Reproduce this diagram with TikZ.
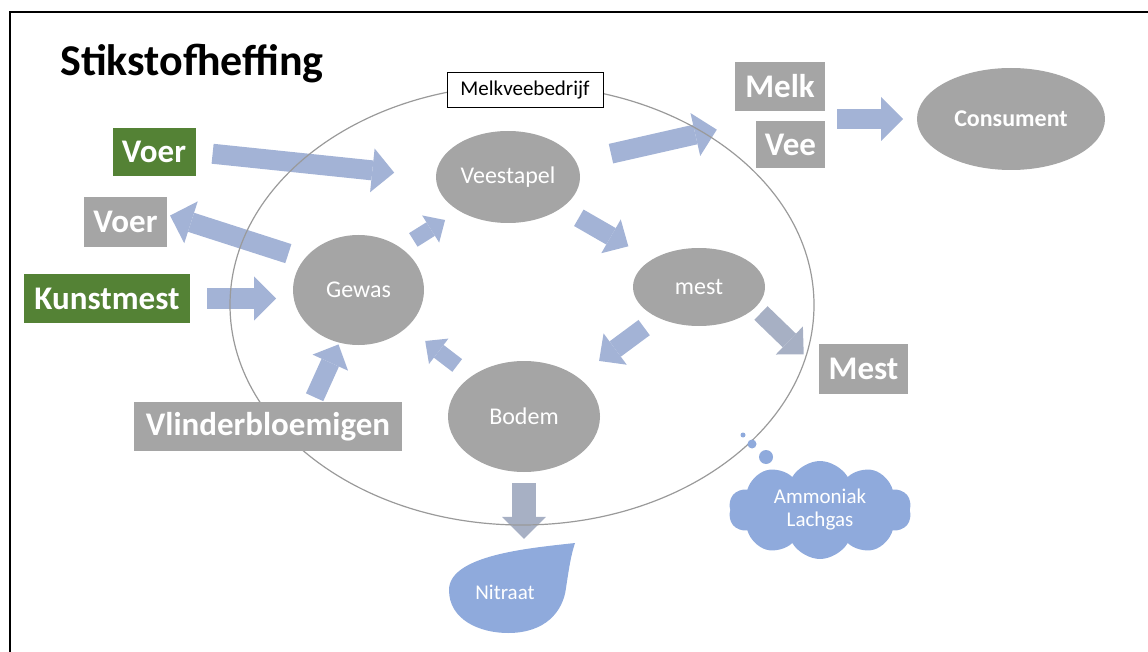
\documentclass[tikz,border=0pt]{standalone}
\usepackage{fontspec}
\setmainfont{Carlito}
\usepackage{tikz}
\usetikzlibrary{positioning, arrows.meta, calc, shapes.geometric, shapes.symbols}
\definecolor{stik-grey}{HTML}{A5A5A5}
\definecolor{stik-green}{HTML}{548235}
\definecolor{stik-flow}{HTML}{A3B3D6}
\definecolor{stik-flowgrey}{HTML}{A7B0C4}
\definecolor{stik-blue}{HTML}{8FAADC}
\definecolor{stik-ring}{HTML}{9A9A9A}
\pgfdeclarelayer{pijlen}
\pgfdeclarelayer{ring}
\pgfsetlayers{pijlen,ring,main}

\begin{document}
\begin{tikzpicture}[
    x=1pt, y=-1pt,
    label box/.style={fill=stik-grey, text=white, inner sep=0pt, font=\fontsize{33}{36}\selectfont\bfseries},
    input box/.style={label box, fill=stik-green},
    pool/.style={ellipse, fill=stik-grey, text=white, inner sep=0pt, outer sep=0pt, font=\fontsize{24}{28}\selectfont},
    flow/.style={stik-flow, line width=20pt, -{Triangle[length=22pt, width=44pt, line width=0pt]}},
    flow mid/.style={stik-flow, line width=19pt, -{Triangle[length=20pt, width=39pt, line width=0pt]}},
    flow small/.style={stik-flow, line width=16pt, -{Triangle[length=17pt, width=32pt, line width=0pt]}},
]
    \useasboundingbox (0,0) rectangle (1148,652);

    % Page frame
    \draw[line width=2.5pt] (10,652) |- (1148,12);

    % Title
    \node[anchor=base west, inner sep=0pt, font=\fontsize{44}{48}\selectfont\bfseries] (titel) at (60,76)
        {Stikstofheffing};

    % Melkveebedrijf
    \begin{pgfonlayer}{ring}
        \node[ellipse, draw=stik-ring, line width=1.2pt, inner sep=0pt,
              minimum width=584pt, minimum height=440pt] (bedrijf) at (522,305) {};
    \end{pgfonlayer}
    \node[draw, fill=white, line width=1pt, inner sep=0pt, minimum width=156pt, minimum height=35pt,
          font=\fontsize{21}{24}\selectfont] (bedrijflabel) at (525,90.5) {Melkveebedrijf};

    % Inputs
    \node[input box, minimum width=83pt, minimum height=48pt] (voerin) at (154,152) {Voer};
    \node[label box, minimum width=83pt, minimum height=50pt] (voeruit) at (125.5,222) {Voer};
    \node[input box, minimum width=166pt, minimum height=49pt] (kunstmest) at (107,298.5) {Kunstmest};
    \node[label box, minimum width=268pt, minimum height=49pt] (vlinder) at (268,426.5) {Vlinderbloemigen};

    % Pools on the farm
    \node[pool, minimum width=144pt, minimum height=92pt] (veestapel) at (508,177) {Veestapel};
    \node[pool, minimum width=131pt, minimum height=110pt] (gewas) at (358.5,290) {Gewas};
    \node[pool, minimum width=132pt, minimum height=78pt] (mest) at (699,287) {mest};
    \node[pool, minimum width=152pt, minimum height=111pt] (bodem) at (524,416.5) {Bodem};

    % Outputs
    \node[label box, minimum width=90pt, minimum height=49pt] (melk) at (780,86.5) {Melk};
    \node[label box, minimum width=69pt, minimum height=47pt] (vee) at (790.5,144.5) {Vee};
    \node[label box, minimum width=89pt, minimum height=50pt] (mestuit) at (863.5,369) {Mest};
    \node[pool, minimum width=188pt, minimum height=102pt, font=\fontsize{24}{28}\selectfont\bfseries]
        (consument) at (1011,119) {Consument};

    % Losses
    \node[cloud, cloud puffs=10, cloud puff arc=120, cloud ignores aspect, fill=stik-blue, text=white,
          inner sep=0pt, minimum width=183pt, minimum height=98pt, align=center,
          font=\fontsize{21}{23}\selectfont]
        (wolk) at (820,510) {Ammoniak\\Lachgas};
    \fill[stik-blue] (743,435) circle[radius=2.5pt];
    \fill[stik-blue] (752,444) circle[radius=4.5pt];
    \fill[stik-blue] (766,457) circle[radius=7pt];

    \fill[stik-blue] (575,543) .. controls (530,548) and (449,555) .. (449,590)
        .. controls (449,620) and (480,633) .. (508,633)
        .. controls (545,633) and (563,612) .. (566,588)
        .. controls (569,568) and (571,555) .. (575,543) -- cycle;
    \node[inner sep=0pt, text=white, font=\fontsize{21}{23}\selectfont,
          minimum width=126pt, minimum height=90pt] (nitraat) at (505,592) {Nitraat};

    % Flows
    \begin{pgfonlayer}{pijlen}
        \draw[flow, shorten <=17pt, shorten >=42pt] (voerin.east) -- (veestapel.west);
        \draw[flow, shorten <=17pt, shorten >=3pt] (gewas.150) -- (voeruit.10);
        \draw[flow, shorten <=17pt, shorten >=17pt] (kunstmest.east) -- (kunstmest.east -| gewas.west);
        \draw[flow mid, shorten <=5pt, shorten >=2pt] (vlinder.29) -- (gewas.250);

        \draw[flow small, shorten <=15pt, shorten >=17pt] (gewas.45) -- (veestapel.215);
        \draw[flow mid, shorten <=20pt, shorten >=27pt] (veestapel) -- (mest);
        \draw[flow mid, shorten <=17pt, shorten >=27pt] (mest) -- (bodem);
        \draw[flow small, shorten <=18pt, shorten >=23pt] (bodem) -- (gewas);

        \draw[flow, shorten <=36pt, shorten >=40pt] (veestapel) -- (vee.north west);
        \draw[flow, shorten <=12pt, shorten >=14pt] (vee.east |- consument.west) -- (consument.west);
        \draw[flow mid, stik-flowgrey, shorten <=8pt, shorten >=21pt] (mest.-20) -- (mestuit.west);
        \draw[flow, line width=24pt, stik-flowgrey, shorten <=11pt, shorten >=8pt]
            (bodem.south) -- (bodem.south |- nitraat.north);
    \end{pgfonlayer}
\end{tikzpicture}
\end{document}
